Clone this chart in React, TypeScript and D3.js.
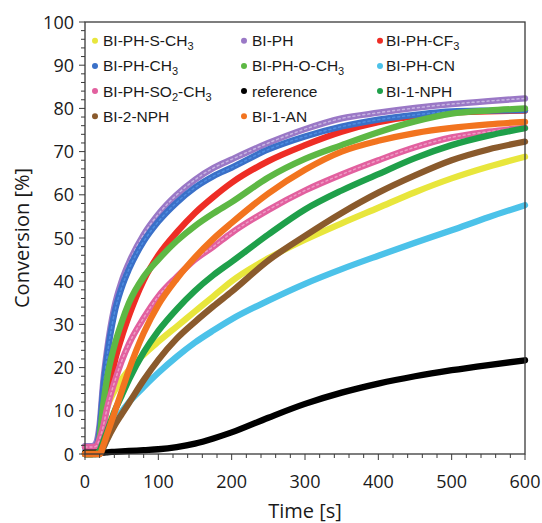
import React from "react";
import * as d3 from "d3";

const times = [0, 10, 15, 20, 25, 30, 40, 50, 60, 80, 100, 125, 150, 175, 200, 250, 300, 350, 400, 450, 500, 550, 600];

const sCH3 = [0, 0, 0.5, 2, 6, 10.5, 14.5, 17.3, 19.5, 23, 26, 29.5, 33, 36.5, 40, 45.3, 49.6, 53.4, 57, 60.6, 63.8, 66.5, 68.8];
const ph = [1.8, 1.8, 2.5, 7, 17, 24, 34, 40, 44.3, 50.8, 55.5, 60, 63.5, 66.2, 68.2, 72, 75.2, 77.7, 79, 80.1, 81, 81.7, 82.3];
const cf3 = [0, 0, 0.5, 3, 7, 11.6, 21, 27, 32, 40.2, 46, 51.3, 55.8, 59.5, 62.8, 67.8, 71.5, 74.6, 76.8, 78.2, 79, 79.3, 79.5];
const ch3 = [1.5, 1.5, 1.8, 5.5, 15.5, 22.5, 32.5, 38.5, 42.8, 49.2, 53.8, 58.2, 61.7, 64.3, 66.3, 70.5, 73.5, 75.8, 77.4, 78.5, 79.3, 79.5, 79.6];
const och3 = [0, 0, 0.5, 4, 11.6, 17.5, 25, 30.5, 35, 41, 45, 49.3, 52.8, 55.7, 58.3, 64, 68.3, 71.5, 74.5, 77, 78.8, 79.5, 80];
const cn = [0, 0, 0, 0, 1.5, 3.5, 7, 9.8, 12, 15.5, 18.8, 22.5, 25.8, 28.6, 31.2, 35.5, 39.4, 42.8, 45.9, 48.9, 51.8, 54.8, 57.6];
const so2ch3 = [1.6, 1.6, 1.8, 3.5, 6.5, 10.5, 16.5, 21.5, 25.5, 31.5, 36.5, 41, 45, 48, 51.2, 56.5, 61, 64.7, 68, 71, 73.3, 74.6, 75.5];
const reference = [0.3, 0.3, 0.3, 0.3, 0.3, 0.4, 0.5, 0.6, 0.7, 0.9, 1.1, 1.6, 2.4, 3.6, 5, 8.4, 11.6, 14.2, 16.3, 18, 19.4, 20.6, 21.7];
const nph1 = [0, 0, 0, 0.8, 3, 5.2, 9.8, 13.5, 17.2, 23.5, 28.5, 33.5, 37.8, 41.4, 44.5, 50.8, 56.6, 61, 64.8, 68.5, 71.5, 73.7, 75.4];
const nph2 = [0, 0, 0, 0, 1.5, 3.3, 6.5, 9.2, 11.8, 17.1, 21.8, 26.7, 30.6, 34.2, 37.6, 44.8, 50.5, 55.8, 60.5, 64.5, 68, 70.5, 72.3];
const an1 = [0, 0, 0, 0, 2, 4.5, 9.5, 14.5, 19.5, 28, 34.5, 40.5, 45.5, 49.8, 53.5, 60.3, 65.8, 70, 72.5, 74.3, 75.5, 76.3, 76.9];

type Part = { main: string; sub?: string };
const seriesNames: Part[][] = [
  [{ main: "BI-PH-S-CH" }, { main: "", sub: "3" }],
  [{ main: "BI-PH" }],
  [{ main: "BI-PH-CF" }, { main: "", sub: "3" }],
  [{ main: "BI-PH-CH" }, { main: "", sub: "3" }],
  [{ main: "BI-PH-O-CH" }, { main: "", sub: "3" }],
  [{ main: "BI-PH-CN" }],
  [{ main: "BI-PH-SO" }, { main: "", sub: "2" }, { main: "-CH" }, { main: "", sub: "3" }],
  [{ main: "reference" }],
  [{ main: "BI-1-NPH" }],
  [{ main: "BI-2-NPH" }],
  [{ main: "BI-1-AN" }],
];
const seriesValues = [sCH3, ph, cf3, ch3, och3, cn, so2ch3, reference, nph1, nph2, an1];
const seriesColors = ["#e8e63c", "#9a78c6", "#ee2d25", "#3a70c8", "#5db844", "#4cc2e9", "#e2609f", "#000000", "#1fa04a", "#8a5a2c", "#f2741f"];
const seriesInner = [null, "#c8b4e2", null, "#4f8ee0", null, null, "#ee9cc6", null, null, null, null];

const xTicks = [0, 100, 200, 300, 400, 500, 600];
const yTicks = [0, 10, 20, 30, 40, 50, 60, 70, 80, 90, 100];

export default function App() {
  const W = 542, H = 523;
  const left = 85, right = 525, top = 22, bottom = 454;
  const x = d3.scaleLinear().domain([0, 600]).range([left, right]);
  const y = d3.scaleLinear().domain([0, 100]).range([bottom, top]);
  const line = d3
    .line<number>()
    .x((_, i) => x(times[i]))
    .y((v) => y(v))
    .curve(d3.curveMonotoneX);

  const xMinor = d3.range(0, 601, 20);
  const yMinor = d3.range(0, 101, 2);
  const axisColor = "#3a3a3a";
  const tickFont = "'Open Sans', sans-serif";

  return (
    <svg width={W} height={H} style={{ position: "absolute", left: 0, top: 0, background: "#fff" }}>
      <rect x={0} y={0} width={W} height={H} fill="#fff" />
      <g>
        {seriesValues.map((vals, i) => (
          <g key={i}>
            <path d={line(vals) || ""} fill="none" stroke={seriesColors[i]} strokeWidth={6.3} strokeLinecap="round" strokeLinejoin="round" />
            {seriesInner[i] && (
              <path d={line(vals) || ""} fill="none" stroke={seriesInner[i] as string} strokeWidth={1.5} strokeDasharray="2 3" strokeLinecap="round" />
            )}
          </g>
        ))}
      </g>
      <rect x={left} y={top} width={right - left} height={bottom - top} fill="none" stroke={axisColor} strokeWidth={1.3} />
      {xMinor.map((t) => (
        <line key={"xm" + t} x1={x(t)} x2={x(t)} y1={bottom} y2={bottom + (t % 100 === 0 ? 6 : 4)} stroke={axisColor} strokeWidth={1} />
      ))}
      {yMinor.map((v) => (
        <line key={"ym" + v} x1={left - (v % 10 === 0 ? 6 : 4)} x2={left} y1={y(v)} y2={y(v)} stroke={axisColor} strokeWidth={1} />
      ))}
      {xTicks.map((t) => (
        <text key={"xt" + t} x={x(t)} y={488} textAnchor="middle" fontFamily={tickFont} fontSize={18} fill="#1a1a1a">
          {t}
        </text>
      ))}
      {yTicks.map((v) => (
        <text key={"yt" + v} x={74} y={y(v) + 6.5} textAnchor="end" fontFamily={tickFont} fontSize={18} fill="#1a1a1a">
          {v}
        </text>
      ))}
      <text x={305} y={518} textAnchor="middle" fontFamily={tickFont} fontSize={20} fill="#1a1a1a">
        Time [s]
      </text>
      <text transform="translate(29,238) rotate(-90)" textAnchor="middle" fontFamily={tickFont} fontSize={20} fill="#1a1a1a">
        Conversion [%]
      </text>
      {seriesNames.map((parts, i) => {
        const col = i % 3;
        const row = Math.floor(i / 3);
        const mx = [95, 244, 380][col];
        const tx = [103, 252, 386][col];
        const cy = 40.7 + row * 25.2;
        return (
          <g key={"lg" + i}>
            <circle cx={mx} cy={cy} r={3} fill={seriesColors[i]} />
            <text x={tx} y={cy + 5.5} fontFamily="'Liberation Sans', Arial, sans-serif" fontSize={15.5} fill="#1a1a1a">
              {parts.map((p, j) =>
                p.sub ? (
                  <tspan key={j} fontSize={11} dy={4}>
                    {p.sub}
                  </tspan>
                ) : (
                  <tspan key={j} dy={j > 0 && parts[j - 1].sub ? -4 : 0}>
                    {p.main}
                  </tspan>
                )
              )}
            </text>
          </g>
        );
      })}
    </svg>
  );
}
